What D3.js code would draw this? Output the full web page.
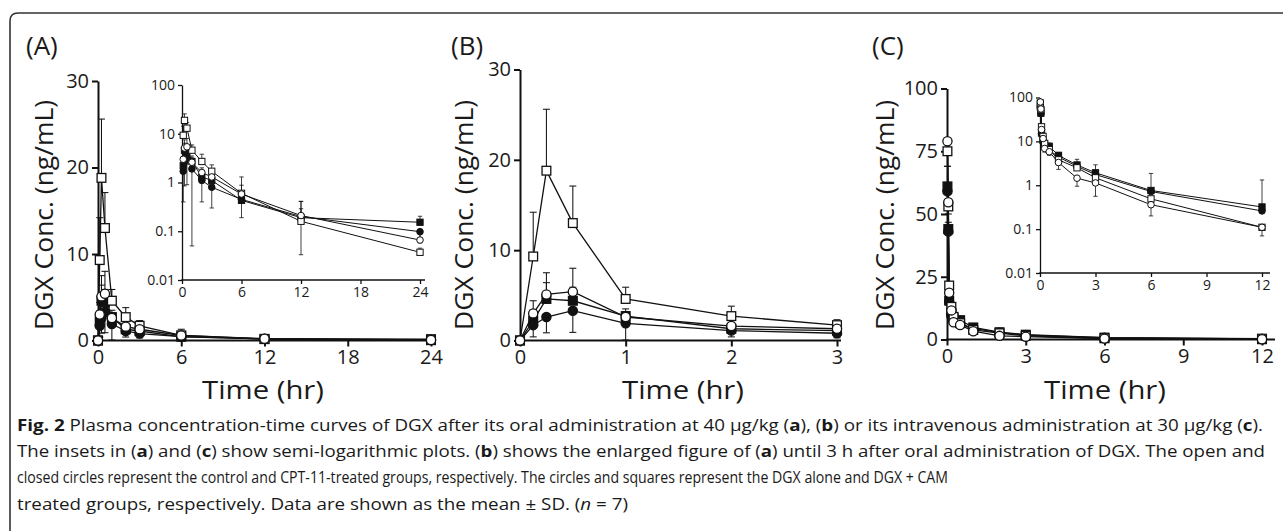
<!DOCTYPE html>
<html>
<head>
<meta charset="utf-8">
<script src="https://cdn.jsdelivr.net/npm/d3@7"></script>
<style>
  body { margin: 0; background: #fff; }
  svg { display: block; }
  text { font-family: "Open Sans", "Noto Sans", sans-serif; fill: #1a1a1a; }
</style>
</head>
<body>
<div id="chart"></div>
<script>
// oral dose, 40 ug/kg (panels A and B), hours
const oralTimes = [0, 0.125, 0.25, 0.5, 1, 2, 3, 6, 12, 24];
const oralOpenSq   = [0, 9.3, 18.8, 13.0, 4.6, 2.7, 1.7, 0.60, 0.16, 0.037];
const oralOpenSqSD = [0, 4.9, 6.8, 4.1, 1.3, 1.1, 0.6, 0.7, 0.25, 0.008];
const oralOpenCi   = [0, 3.0, 5.1, 5.4, 2.6, 1.6, 1.3, 0.58, 0.21, 0.066];
const oralOpenCiSD = [0, 1.4, 2.4, 2.6, 0.6, 0.4, 0.4, 0.3, 0.2, 0.03];
const oralFillSq   = [0, 2.2, 4.6, 4.4, 2.7, 1.3, 1.1, 0.43, 0.19, 0.153];
const oralFillSqSD = [0, 1.2, 1.8, 1.5, 0.8, 0.5, 0.4, 0.2, 0.1, 0.05];
const oralFillCi   = [0, 1.7, 2.6, 3.3, 1.9, 1.1, 0.8, 0.45, 0.20, 0.098];
const oralFillCiSD = [0, 1.3, 1.75, 2.4, 1.85, 0.7, 0.5, 0.26, 0.167, 0.04];

// intravenous dose, 30 ug/kg (panel C), hours
const ivTimes = [0.017, 0.05, 0.083, 0.167, 0.25, 0.5, 1, 2, 3, 6, 12];
const ivOpenSq   = [75, 53, 21.5, 13, 9.0, 6.5, 3.8, 2.5, 1.48, 0.49, 0.11];
const ivOpenCi   = [79, 54.7, 18.6, 11.6, 6.9, 5.8, 3.3, 1.45, 1.13, 0.36, 0.11];
const ivOpenCiSD = [10, 8, 3, 2, 1.2, 1.0, 1.0, 0.5, 0.57, 0.16, 0.04];
const ivFillSq   = [61, 44, 15.5, 10.5, 8.3, 7.7, 4.8, 2.9, 1.92, 0.76, 0.32];
const ivFillSqSD = [8, 6, 4, 3, 2, 1.5, 0.8, 1.0, 1.0, 1.1, 1.0];
const ivFillCi   = [59, 43, 15, 10, 7.5, 6.3, 4.4, 2.7, 1.75, 0.72, 0.26];

// tick labels
const ticksA = [0, 6, 12, 18, 24];
const ticksB = [0, 1, 2, 3];
const ticksC = [0, 3, 6, 9, 12];
const yTicks30 = [0, 10, 20, 30];
const yTicks100 = [0, 25, 50, 75, 100];
const logTicks = [0.01, 0.1, 1, 10, 100];

const captionLines = [
  [["Fig. 2", "b"], [" Plasma concentration-time curves of DGX after its oral administration at 40 µg/kg ("], ["a", "b"], ["), ("], ["b", "b"], [") or its intravenous administration at 30 µg/kg ("], ["c", "b"], [")."]],
  [["The insets in ("], ["a", "b"], [") and ("], ["c", "b"], [") show semi-logarithmic plots. ("], ["b", "b"], [") shows the enlarged figure of ("], ["a", "b"], [") until 3 h after oral administration of DGX. The open and"]],
  [["closed circles represent the control and CPT-11-treated groups, respectively. The circles and squares represent the DGX alone and DGX + CAM"]],
  [["treated groups, respectively. Data are shown as the mean ± SD. ("], ["n", "i"], [" = 7)"]]
];

const width = 1283, height = 531;
const svg = d3.create('svg').attr('width', width).attr('height', height);

// frame with rounded top-left corner
svg.append('path')
  .attr('d', `M10,${height}V21Q10,13 18,13H${width}`)
  .attr('fill', 'none').attr('stroke', '#333').attr('stroke-width', 1.6);

const oralSeries = [
  {shape: 'square', fill: '#111', values: oralFillSq, sd: oralFillSqSD, dir: 1},
  {shape: 'circle', fill: '#111', values: oralFillCi, sd: oralFillCiSD, dir: -1},
  {shape: 'square', fill: '#fff', values: oralOpenSq, sd: oralOpenSqSD, dir: 1},
  {shape: 'circle', fill: '#fff', values: oralOpenCi, sd: oralOpenCiSD, dir: 1}
];
const ivSeries = [
  {shape: 'square', fill: '#111', values: ivFillSq, sd: ivFillSqSD, dir: 1},
  {shape: 'circle', fill: '#111', values: ivFillCi, sd: null, dir: 1},
  {shape: 'square', fill: '#fff', values: ivOpenSq, sd: null, dir: 1},
  {shape: 'circle', fill: '#fff', values: ivOpenCi, sd: ivOpenCiSD, dir: -1}
];

function drawPanel(cfg) {
  const g = svg.append('g');
  const x = cfg.x, y = cfg.y;
  const yMin = d3.min(y.domain());
  const xMax = d3.max(x.domain());

  // x axis
  const xa = g.append('g')
    .attr('transform', `translate(0,${y.range()[0]})`)
    .call(d3.axisBottom(x).tickValues(cfg.xTicks).tickSize(cfg.tick).tickPadding(cfg.pad).tickSizeOuter(0)
      .tickFormat(d => String(d)));
  xa.select('.domain').attr('d', `M${x.range()[0] - cfg.aw / 2},0H${x.range()[1] + cfg.xExt}`);
  // y axis
  const ya = g.append('g')
    .attr('transform', `translate(${x.range()[0]},0)`)
    .call(d3.axisLeft(y).tickValues(cfg.yTicks).tickSize(cfg.tick).tickPadding(cfg.pad).tickSizeOuter(0)
      .tickFormat(d => String(d)));
  [xa, ya].forEach(a => {
    a.selectAll('path, line').attr('stroke', '#111').attr('stroke-width', cfg.aw);
    a.selectAll('text').attr('font-size', cfg.fs).attr('font-family', '"Open Sans", sans-serif').attr('fill', '#1a1a1a');
  });

  const pts = s => cfg.times.map((t, i) => ({t, v: s.values[i], sd: s.sd ? s.sd[i] : 0}))
    .filter(p => p.t <= xMax && (!cfg.log || p.v > 0));

  const line = d3.line().x(d => x(d.t)).y(d => y(d.v));
  cfg.series.forEach(s => {
    g.append('path').datum(pts(s)).attr('d', line)
      .attr('fill', 'none').attr('stroke', '#111').attr('stroke-width', cfg.lw);
  });

  // error bars (one-sided)
  cfg.series.forEach(s => {
    const eb = g.append('g').attr('stroke', '#111').attr('stroke-width', cfg.lw * 0.8);
    pts(s).filter(p => p.sd > 0).forEach(p => {
      const end = s.dir > 0 ? p.v + p.sd : Math.max(p.v - p.sd, yMin);
      const y2 = y(end);
      eb.append('line').attr('x1', x(p.t)).attr('x2', x(p.t)).attr('y1', y(p.v)).attr('y2', y2);
      eb.append('line').attr('x1', x(p.t) - cfg.cap).attr('x2', x(p.t) + cfg.cap).attr('y1', y2).attr('y2', y2);
    });
  });

  // markers
  cfg.series.forEach(s => {
    const mg = g.append('g').attr('stroke', '#111').attr('stroke-width', cfg.lw).attr('fill', s.fill);
    pts(s).forEach(p => {
      if (s.shape === 'circle') {
        mg.append('circle').attr('cx', x(p.t)).attr('cy', y(p.v)).attr('r', cfg.r);
      } else {
        const h = cfg.r * 0.95;
        mg.append('rect').attr('x', x(p.t) - h).attr('y', y(p.v) - h).attr('width', 2 * h).attr('height', 2 * h);
      }
    });
  });
}

const mainCfg = {tick: 6, pad: 3, aw: 2, fs: 20, lw: 1.3, r: 4.6, cap: 3.5};
const insetCfg = {tick: 4, pad: 3, aw: 1.3, fs: 14, lw: 1, r: 3.3, cap: 2.2};

// panel A main
drawPanel(Object.assign({}, mainCfg, {
  x: d3.scaleLinear().domain([0, 24]).range([98, 431]),
  y: d3.scaleLinear().domain([0, 30]).range([340.5, 81]),
  xTicks: ticksA, yTicks: yTicks30, xExt: 4, times: oralTimes, series: oralSeries
}));
// panel A inset
drawPanel(Object.assign({}, insetCfg, {
  x: d3.scaleLinear().domain([0, 24]).range([182, 420]),
  y: d3.scaleLog().domain([0.01, 100]).range([280, 85]),
  xTicks: ticksA, yTicks: logTicks, xExt: 5, times: oralTimes, series: oralSeries, log: true
}));
// panel B
drawPanel(Object.assign({}, mainCfg, {
  x: d3.scaleLinear().domain([0, 3]).range([520, 837]),
  y: d3.scaleLinear().domain([0, 30]).range([340.5, 69.5]),
  xTicks: ticksB, yTicks: yTicks30, xExt: 4, times: oralTimes, series: oralSeries
}));
// panel C main
drawPanel(Object.assign({}, mainCfg, {
  x: d3.scaleLinear().domain([0, 12]).range([947, 1262]),
  y: d3.scaleLinear().domain([0, 100]).range([339.5, 88.5]),
  xTicks: ticksC, yTicks: yTicks100, xExt: 13, times: ivTimes, series: ivSeries
}));
// panel C inset
drawPanel(Object.assign({}, insetCfg, {
  x: d3.scaleLinear().domain([0, 12]).range([1040, 1262]),
  y: d3.scaleLog().domain([0.01, 100]).range([273, 97.5]),
  xTicks: ticksC, yTicks: logTicks, xExt: 8, times: ivTimes, series: ivSeries, log: true
}));

// panel letters and axis titles
[["(A)", 26, 55], ["(B)", 451, 55], ["(C)", 872, 55]].forEach(([t, x, y]) => {
  svg.append('text').attr('x', x).attr('y', y).attr('font-size', 26).text(t);
});
[[53, 263], [473, 683], [894, 1105]].forEach(([yx, tx]) => {
  svg.append('text')
    .attr('transform', `translate(${yx},215) rotate(-90)`)
    .attr('text-anchor', 'middle').attr('font-size', 26)
    .attr('textLength', 230).attr('lengthAdjust', 'spacingAndGlyphs')
    .text('DGX Conc. (ng/mL)');
  svg.append('text')
    .attr('x', tx).attr('y', 399)
    .attr('text-anchor', 'middle').attr('font-size', 26)
    .attr('textLength', 122).attr('lengthAdjust', 'spacingAndGlyphs')
    .text('Time (hr)');
});

// caption, each line fitted to its width in the figure
const capEnds = [1263, 1265, 948, 628];
captionLines.forEach((segs, i) => {
  const t = svg.append('text')
    .attr('x', 17).attr('y', 431 + i * 26.2)
    .attr('font-size', 16.5)
    .attr('textLength', capEnds[i] - 17).attr('lengthAdjust', 'spacingAndGlyphs');
  segs.forEach(([s, st]) => {
    const ts = t.append('tspan').text(s);
    if (st === 'b') ts.attr('font-weight', 'bold');
    if (st === 'i') ts.attr('font-style', 'italic');
  });
});

document.getElementById('chart').appendChild(svg.node());
</script>
</body>
</html>
